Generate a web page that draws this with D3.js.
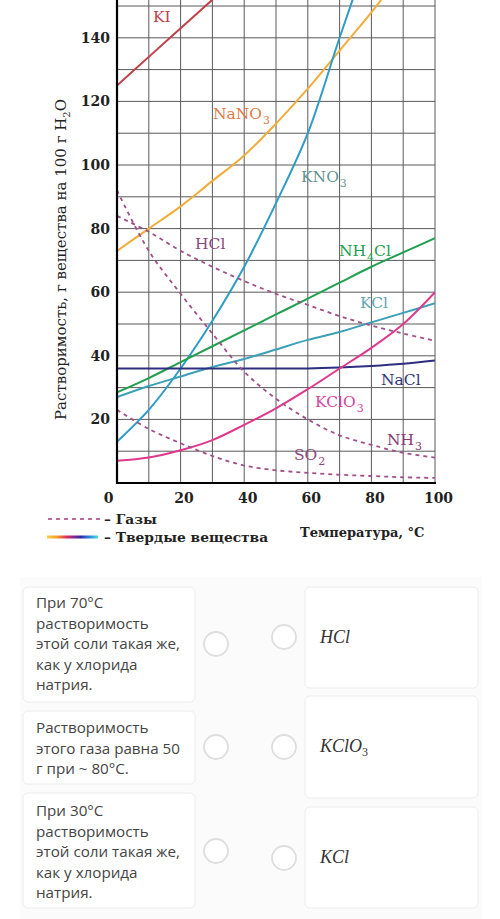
<!DOCTYPE html>
<html><head><meta charset="utf-8">
<script src="https://cdn.jsdelivr.net/npm/d3@7"></script>
<style>body{margin:0;background:#fff}svg{display:block}</style>
</head><body><svg id="c" width="500" height="919"></svg>
<script>
// ---- data ----
const temps = [0,10,20,30,40,50,60,70,80,90,100];
const tempsKI = [0,10,20,30,40];
const valsKI = [125,134,143,152,161];
const tempsNaNO3 = [0,10,20,30,40,50,60,70,80,90];
const valsNaNO3 = [73,80,87,95,103,113,124,136,148,161];
const tempsKNO3 = [0,10,20,30,40,50,60,70,80];
const valsKNO3 = [13,23,36,51,68,88,110,140,169];
const valsNH4Cl = [28.5,33,38,43,48,53,58,63,68,72.5,77];
const valsKCl = [27,30.5,33.5,36.5,39,42,45,47.5,50.5,53.5,56.5];
const valsNaCl = [36,36,36,36,36,36,36,36.3,36.8,37.5,38.5];
const valsKClO3 = [7,8,10.3,13.5,18.3,23.5,29.5,36,42.5,50,60];
const valsHCl = [84,79,73,68,63.5,59.5,56,52.5,49.5,47,44.7];
const valsNH3 = [92,73,59.5,47,35,26.5,20,15,12,9.5,8];
const valsSO2 = [23,17,12.5,8.5,5.5,4,3.2,2.6,2.2,1.8,1.6];
const yTicks = [20,40,60,80,100,120,140];
const xTicks = [0,20,40,60,80,100];
const gridX = [10,20,30,40,50,60,70,80,90,100];
const gridY = [10,20,30,40,50,60,70,80,90,100,110,120,130,140,150];
const yTitle = "Растворимость, г вещества на 100 г H";
const xTitle = "Температура, °C";
const legendGas = "– Газы";
const legendSolid = "– Твердые вещества";
const questions = [
  ["При 70°C","растворимость","этой соли такая же,","как у хлорида","натрия."],
  ["Растворимость","этого газа равна 50","г при ~ 80°C."],
  ["При 30°C","растворимость","этой соли такая же,","как у хлорида","натрия."]
];
const answers = [["HCl",""],["KClO","3"],["KCl",""]];

const series = [
  {t:tempsKI, v:valsKI, c:"#c0404a", gas:false},
  {t:tempsNaNO3, v:valsNaNO3, c:"#f2ac3a", gas:false},
  {t:tempsKNO3, v:valsKNO3, c:"#2f9cc8", gas:false},
  {t:temps, v:valsNH4Cl, c:"#21a050", gas:false},
  {t:temps, v:valsKCl, c:"#3ba0b8", gas:false},
  {t:temps, v:valsNaCl, c:"#2e2e80", gas:false},
  {t:temps, v:valsKClO3, c:"#e0388c", gas:false},
  {t:temps, v:valsHCl, c:"#a05088", gas:true},
  {t:temps, v:valsNH3, c:"#a05088", gas:true},
  {t:temps, v:valsSO2, c:"#a05088", gas:true}
];
const labels = [
  {p:[["KI",0]], x:153, y:22, c:"#c0404a"},
  {p:[["NaNO",0],["3",1]], x:213, y:119, c:"#e07a48"},
  {p:[["KNO",0],["3",1]], x:301, y:182, c:"#5f9494"},
  {p:[["NH",0],["4",1],["Cl",0]], x:339, y:256, c:"#21a050"},
  {p:[["KCl",0]], x:360, y:308, c:"#62a6b2"},
  {p:[["NaCl",0]], x:381, y:385, c:"#33337a"},
  {p:[["KClO",0],["3",1]], x:315, y:407, c:"#d8449a"},
  {p:[["NH",0],["3",1]], x:387, y:445, c:"#8a3870"},
  {p:[["SO",0],["2",1]], x:294, y:460, c:"#8a4a80"},
  {p:[["HCl",0]], x:195, y:249, c:"#8a4a80"}
];

// ---- drawing ----
const svg = d3.select("#c");
const x = d3.scaleLinear().domain([0,100]).range([117,435]);
const y = d3.scaleLinear().domain([0,150]).range([483,6]);
const SERIF = "'DejaVu Serif', serif";

svg.append("defs").append("clipPath").attr("id","clip")
  .append("rect").attr("x",117).attr("y",0).attr("width",318).attr("height",483);

const g = svg.append("g");
// grid
g.selectAll(".gx").data(gridX).enter().append("line")
  .attr("x1",d=>x(d)).attr("x2",d=>x(d)).attr("y1",0).attr("y2",y(0))
  .attr("stroke","#5a5a5a").attr("stroke-width",1);
g.selectAll(".gy").data(gridY).enter().append("line")
  .attr("x1",x(0)).attr("x2",x(100)).attr("y1",d=>y(d)).attr("y2",d=>y(d))
  .attr("stroke","#5a5a5a").attr("stroke-width",1);

// curves
const line = d3.line().curve(d3.curveCatmullRom.alpha(0.5));
const cg = g.append("g").attr("clip-path","url(#clip)");
series.forEach(s=>{
  cg.append("path")
    .attr("d", line(s.t.map((t,i)=>[x(t), y(s.v[i])])))
    .attr("fill","none").attr("stroke",s.c)
    .attr("stroke-width", s.gas?1.8:2)
    .attr("stroke-dasharray", s.gas?"4,4":null);
});

// axes lines
g.append("line").attr("x1",x(0)).attr("x2",x(0)).attr("y1",0).attr("y2",y(0)+1)
  .attr("stroke","#000").attr("stroke-width",2.2);
g.append("line").attr("x1",x(0)-1).attr("x2",x(100)+1).attr("y1",y(0)).attr("y2",y(0))
  .attr("stroke","#000").attr("stroke-width",2.2);

// tick labels
const ay = g.append("g").attr("transform",`translate(${x(0)},0)`)
  .call(d3.axisLeft(y).tickValues(yTicks).tickSize(0).tickPadding(7));
ay.select(".domain").remove();
ay.selectAll("text").attr("font-family",SERIF).attr("font-weight","bold")
  .attr("font-size",14).attr("fill","#222");
const ax = g.append("g").attr("transform",`translate(0,${y(0)})`)
  .call(d3.axisBottom(x).tickValues(xTicks).tickSize(0).tickPadding(10));
ax.select(".domain").remove();
ax.selectAll("text").attr("font-family",SERIF).attr("font-weight","bold")
  .attr("font-size",14).attr("fill","#222")
  .attr("dx",d=>d===0?-9:3);

// curve labels
labels.forEach(l=>{
  const t = g.append("text").attr("x",l.x).attr("y",l.y)
    .attr("font-family",SERIF).attr("font-size",15.5).attr("fill",l.c);
  l.p.forEach(([s,sub],i)=>{
    const sp = t.append("tspan").text(s).attr("font-size",sub?11:15.5);
    if(sub) sp.attr("dy",5).attr("dx",1);
    else if(i>0 && l.p[i-1][1]) sp.attr("dy",-5);
  });
});

// y title
const yt = svg.append("text")
  .attr("transform","translate(66,420) rotate(-90)")
  .attr("font-family",SERIF).attr("font-size",15).attr("fill","#222");
yt.append("tspan").text(yTitle);
yt.append("tspan").text("2").attr("font-size",10).attr("dy",4);
yt.append("tspan").text("O").attr("dy",-4);

// x title
svg.append("text").attr("x",300).attr("y",537).text(xTitle)
  .attr("font-family",SERIF).attr("font-weight","bold").attr("font-size",13).attr("fill","#222");

// legend
const grad = svg.select("defs").append("linearGradient").attr("id","lg")
  .attr("x1","0%").attr("x2","100%");
[["0%","#f5d040"],["20%","#f39a30"],["38%","#e0305a"],["52%","#8a2a90"],["66%","#2a2aa0"],["82%","#2a80d8"],["100%","#40e0e0"]]
  .forEach(([o,c])=>grad.append("stop").attr("offset",o).attr("stop-color",c));
svg.append("line").attr("x1",48).attr("x2",100).attr("y1",519).attr("y2",519)
  .attr("stroke","#b86a9c").attr("stroke-width",2).attr("stroke-dasharray","4,4");
svg.append("rect").attr("x",47).attr("y",535.5).attr("width",51).attr("height",3).attr("fill","url(#lg)");
svg.append("text").attr("x",104).attr("y",524).text(legendGas)
  .attr("font-family",SERIF).attr("font-weight","bold").attr("font-size",13.8).attr("fill","#222");
svg.append("text").attr("x",104).attr("y",542).text(legendSolid)
  .attr("font-family",SERIF).attr("font-weight","bold").attr("font-size",13.8).attr("fill","#222");

// ---- quiz panel ----
const SANS = "'Open Sans', sans-serif";
svg.append("rect").attr("x",20).attr("y",577).attr("width",462).attr("height",342).attr("fill","#fbfbfb");
const leftCards = [[587,702],[711,784],[793,908]];
const rightCards = [[587,688],[696,798],[807,908]];
const leftCircles = [644,747,851];
const rightCircles = [637,747,858];
const leftBase = [608,733,816];
const rightBase = [643,752,863];
leftCards.forEach(([a,b],i)=>{
  svg.append("rect").attr("x",23).attr("y",a).attr("width",172).attr("height",b-a)
    .attr("rx",5).attr("fill","#fff").attr("stroke","#ececec");
  const t = svg.append("text").attr("font-family",SANS).attr("font-size",15.2).attr("fill","#444");
  questions[i].forEach((q,j)=>t.append("tspan").attr("x",36).attr("y",leftBase[i]+j*20.5).text(q));
});
rightCards.forEach(([a,b],i)=>{
  svg.append("rect").attr("x",305).attr("y",a).attr("width",173).attr("height",b-a)
    .attr("rx",5).attr("fill","#fff").attr("stroke","#ececec");
  const t = svg.append("text").attr("x",320).attr("y",rightBase[i])
    .attr("font-family","'Liberation Serif', serif").attr("font-style","italic")
    .attr("font-size",18).attr("fill","#333");
  t.append("tspan").text(answers[i][0]);
  if(answers[i][1]) t.append("tspan").text(answers[i][1]).attr("font-style","normal").attr("font-size",12).attr("dy",4);
});
leftCircles.forEach(cy=>svg.append("circle").attr("cx",216).attr("cy",cy).attr("r",12)
  .attr("fill","#fff").attr("stroke","#dedede").attr("stroke-width",1.8));
rightCircles.forEach(cy=>svg.append("circle").attr("cx",284).attr("cy",cy).attr("r",12)
  .attr("fill","#fff").attr("stroke","#dedede").attr("stroke-width",1.8));
</script>
</body></html>
